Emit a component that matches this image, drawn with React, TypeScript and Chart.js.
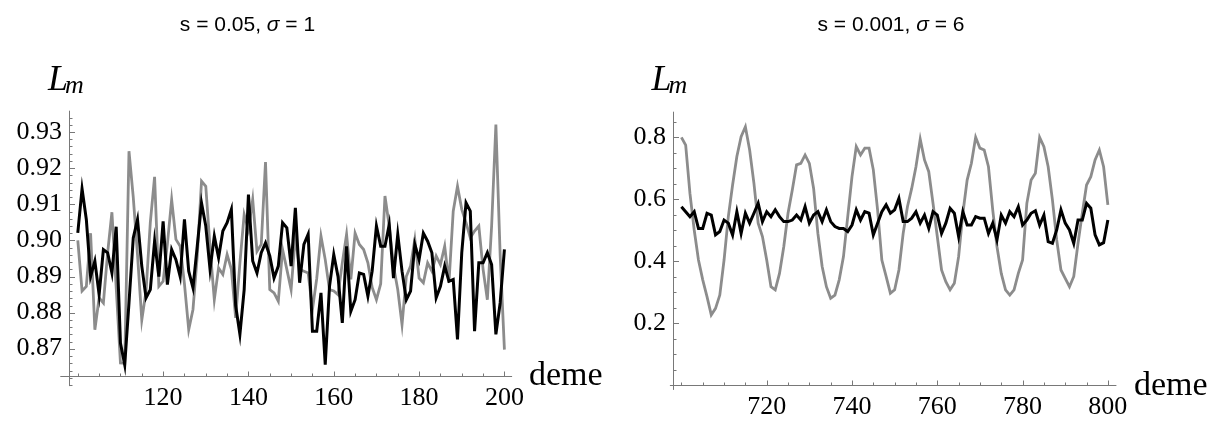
import React, { useEffect, useRef } from 'react';
import { Chart, registerables } from 'chart.js';

Chart.register(...registerables);

// ---------- data ----------
const leftDemeStart = 100;
const rightDemeStart = 700;

const leftBlack = [
  0.9021, 0.9143, 0.9058, 0.8900, 0.8943, 0.8850, 0.8975, 0.8966, 0.8910, 0.9038,
  0.8716, 0.8656, 0.8827, 0.9007, 0.9058, 0.8929, 0.8841, 0.8864, 0.8998, 0.8900,
  0.9053, 0.8878, 0.8975, 0.8947, 0.8900, 0.9058, 0.8915, 0.8869, 0.8984, 0.9104,
  0.9040, 0.8920, 0.9012, 0.8952, 0.9026, 0.9049, 0.9086, 0.8820, 0.8740, 0.8864,
  0.9127, 0.8943, 0.8910, 0.8966, 0.8993, 0.8957, 0.8896, 0.8929, 0.9049, 0.9035,
  0.8929, 0.9090, 0.8883, 0.8989, 0.9017, 0.8749, 0.8749, 0.8855, 0.8656, 0.8873,
  0.8961, 0.8900, 0.8772, 0.8984, 0.8804, 0.8836, 0.8910, 0.8906, 0.8846, 0.8915,
  0.9040, 0.8984, 0.8984, 0.9044, 0.8896, 0.9017, 0.8915, 0.8836, 0.8860, 0.8989,
  0.8947, 0.9020, 0.8998, 0.8966, 0.8841, 0.8873, 0.8929, 0.8887, 0.8892, 0.8726,
  0.8966, 0.9104, 0.9081, 0.8749, 0.8938, 0.8938, 0.8966, 0.8933, 0.8740, 0.8827,
  0.8975,
];

const leftGray = [
  0.9000, 0.8860, 0.8873, 0.9020, 0.8753, 0.8841, 0.8827, 0.8966, 0.9078, 0.8870,
  0.8661, 0.8660, 0.9247, 0.9120, 0.8960, 0.8780, 0.8860, 0.9050, 0.9176, 0.8873,
  0.8887, 0.8990, 0.9113, 0.9003, 0.8984, 0.8880, 0.8753, 0.8809, 0.8957, 0.9164,
  0.9150, 0.8980, 0.8836, 0.8924, 0.8906, 0.8961, 0.8920, 0.8786, 0.8938, 0.9072,
  0.9030, 0.9113, 0.8970, 0.8989, 0.9217, 0.8864, 0.8855, 0.8832, 0.8975, 0.8920,
  0.8864, 0.9012, 0.8920, 0.8915, 0.8910, 0.8809, 0.8894, 0.9012, 0.8947, 0.8864,
  0.8860, 0.8850, 0.8938, 0.9017, 0.8892, 0.9020, 0.8989, 0.8975, 0.8938, 0.8870,
  0.8836, 0.8880, 0.9123, 0.9040, 0.8929, 0.8864, 0.8767, 0.8900, 0.8929, 0.9003,
  0.8896, 0.8883, 0.8938, 0.8915, 0.8957, 0.8933, 0.8984, 0.8883, 0.9081, 0.9150,
  0.9086, 0.9049, 0.9007, 0.9026, 0.9040, 0.8920, 0.8836, 0.9040, 0.9321, 0.8960,
  0.8698,
];

const rightBlack = [
  0.576, 0.560, 0.544, 0.560, 0.506, 0.506, 0.555, 0.549, 0.485, 0.496,
  0.533, 0.523, 0.485, 0.560, 0.490, 0.555, 0.523, 0.555, 0.587, 0.528,
  0.560, 0.544, 0.566, 0.544, 0.528, 0.528, 0.533, 0.549, 0.533, 0.576,
  0.523, 0.549, 0.560, 0.528, 0.566, 0.528, 0.512, 0.506, 0.506, 0.496,
  0.517, 0.566, 0.533, 0.560, 0.555, 0.485, 0.523, 0.560, 0.582, 0.555,
  0.566, 0.603, 0.528, 0.528, 0.539, 0.560, 0.523, 0.549, 0.506, 0.560,
  0.549, 0.490, 0.523, 0.571, 0.555, 0.480, 0.560, 0.517, 0.517, 0.544,
  0.539, 0.539, 0.490, 0.523, 0.469, 0.549, 0.523, 0.560, 0.544, 0.576,
  0.517, 0.533, 0.555, 0.563, 0.517, 0.549, 0.463, 0.458, 0.501, 0.566,
  0.523, 0.501, 0.458, 0.533, 0.533, 0.587, 0.571, 0.485, 0.453, 0.460,
  0.533,
];

const rightGray = [
  0.800, 0.775, 0.619, 0.501, 0.404, 0.340, 0.286, 0.227, 0.248, 0.291,
  0.404, 0.544, 0.646, 0.738, 0.802, 0.834, 0.759, 0.652, 0.523, 0.480,
  0.404, 0.318, 0.308, 0.361, 0.447, 0.555, 0.630, 0.711, 0.716, 0.743,
  0.716, 0.635, 0.490, 0.383, 0.318, 0.281, 0.291, 0.340, 0.415, 0.544,
  0.673, 0.770, 0.743, 0.765, 0.765, 0.695, 0.566, 0.404, 0.351, 0.297,
  0.308, 0.372, 0.490, 0.576, 0.635, 0.705, 0.794, 0.727, 0.689, 0.587,
  0.480, 0.372, 0.334, 0.308, 0.329, 0.415, 0.555, 0.662, 0.716, 0.800,
  0.765, 0.759, 0.705, 0.566, 0.447, 0.361, 0.308, 0.291, 0.308, 0.361,
  0.404, 0.587, 0.662, 0.684, 0.800, 0.770, 0.705, 0.598, 0.469, 0.372,
  0.345, 0.318, 0.351, 0.458, 0.555, 0.646, 0.673, 0.727, 0.759, 0.705,
  0.582,
];

const leftXTicks = [120, 140, 160, 180, 200];
const leftYTicks = [0.87, 0.88, 0.89, 0.90, 0.91, 0.92, 0.93];
const leftYLabels = ['0.87', '0.88', '0.89', '0.90', '0.91', '0.92', '0.93'];
const rightXTicks = [720, 740, 760, 780, 800];
const rightYTicks = [0.2, 0.4, 0.6, 0.8];
const rightYLabels = ['0.2', '0.4', '0.6', '0.8'];

const leftTitle = 's = 0.05, ';
const leftTitleTail = ' = 1';
const rightTitle = 's = 0.001, ';
const rightTitleTail = ' = 6';

// ---------- styles ----------
const AXIS_COLOR = 'rgb(120,120,120)';
const BLACK = '#000000';
const GRAY = 'rgb(140,140,140)';
const SERIF = '"Liberation Serif", "Times New Roman", serif';
const SANS = '"Liberation Sans", Arial, sans-serif';
const TICK_FONT = `26px "Liberation Serif"`;

function range(start: number, stop: number, step: number) {
  const out: number[] = [];
  const n = Math.round((stop - start) / step);
  for (let i = 0; i <= n; i++) out.push(+(start + i * step).toFixed(6));
  return out;
}

const axesPlugin = {
  id: 'mmaAxes',
  beforeDatasetsDraw(chart: any, _args: any, opts: any) {
    const { ctx } = chart;
    const xs = chart.scales.x;
    const ys = chart.scales.y;
    const ox = Math.round(xs.getPixelForValue(opts.originX)) + 0.5;
    const oy = Math.round(ys.getPixelForValue(opts.originY)) + 0.5;
    ctx.save();
    ctx.strokeStyle = AXIS_COLOR;
    ctx.lineWidth = 1;
    ctx.beginPath();
    ctx.moveTo(xs.left, oy);
    ctx.lineTo(xs.right, oy);
    ctx.moveTo(ox, ys.top);
    ctx.lineTo(ox, ys.bottom);
    ctx.stroke();
    ctx.beginPath();
    for (const v of opts.xMinor) {
      const px = Math.round(xs.getPixelForValue(v)) + 0.5;
      ctx.moveTo(px, oy);
      ctx.lineTo(px, oy - 3);
    }
    for (const v of opts.xMajor) {
      const px = Math.round(xs.getPixelForValue(v)) + 0.5;
      ctx.moveTo(px, oy);
      ctx.lineTo(px, oy - 5);
    }
    for (const v of opts.yMinor) {
      const py = Math.round(ys.getPixelForValue(v)) + 0.5;
      ctx.moveTo(ox, py);
      ctx.lineTo(ox + 3, py);
    }
    for (const v of opts.yMajor) {
      const py = Math.round(ys.getPixelForValue(v)) + 0.5;
      ctx.moveTo(ox, py);
      ctx.lineTo(ox + 5.5, py);
    }
    ctx.stroke();
    ctx.fillStyle = '#000';
    ctx.font = `26px ${SERIF}`;
    ctx.textBaseline = 'alphabetic';
    ctx.textAlign = 'center';
    opts.xMajor.forEach((v: number) => {
      ctx.fillText(String(v), xs.getPixelForValue(v), oy + 28.5);
    });
    ctx.textAlign = 'right';
    opts.yMajor.forEach((v: number, i: number) => {
      ctx.fillText(opts.yLabels[i], ox - 7.5, ys.getPixelForValue(v) + 6.5);
    });
    ctx.restore();
  },
};

type PanelCfg = {
  left: number;
  width: number;
  start: number;
  black: number[];
  gray: number[];
  xMin: number;
  xMax: number;
  yMin: number;
  yMax: number;
  padding: { left: number; right: number; top: number; bottom: number };
  originX: number;
  originY: number;
  xMajor: number[];
  xMinor: number[];
  yMajor: number[];
  yMinor: number[];
  yLabels: string[];
};

function Panel({ cfg }: { cfg: PanelCfg }) {
  const ref = useRef<HTMLCanvasElement | null>(null);
  useEffect(() => {
    if (!ref.current) return;
    let alive = true;
    const toPts = (arr: number[]) => arr.map((y, i) => ({ x: cfg.start + i, y }));
    const chart = new Chart(ref.current, {
      type: 'line',
      data: {
        datasets: [
          {
            data: toPts(cfg.black),
            borderColor: BLACK,
            borderWidth: 3,
            pointRadius: 0,
            tension: 0,
            fill: false,
          },
          {
            data: toPts(cfg.gray),
            borderColor: GRAY,
            borderWidth: 2.8,
            pointRadius: 0,
            tension: 0,
            fill: false,
          },
        ],
      },
      options: {
        responsive: false,
        animation: false,
        devicePixelRatio: 1,
        layout: { padding: cfg.padding },
        plugins: {
          legend: { display: false },
          tooltip: { enabled: false },
          title: { display: false },
          mmaAxes: {
            originX: cfg.originX,
            originY: cfg.originY,
            xMajor: cfg.xMajor,
            xMinor: cfg.xMinor,
            yMajor: cfg.yMajor,
            yMinor: cfg.yMinor,
            yLabels: cfg.yLabels,
          },
        } as any,
        scales: {
          x: { type: 'linear', min: cfg.xMin, max: cfg.xMax, display: false },
          y: { type: 'linear', min: cfg.yMin, max: cfg.yMax, display: false },
        },
      },
      plugins: [axesPlugin as any],
    });
    const fonts: any = (document as any).fonts;
    if (fonts && fonts.load) {
      fonts
        .load(TICK_FONT, '0123456789.')
        .then(() => {
          if (alive) chart.draw();
        })
        .catch(() => {});
    }
    return () => {
      alive = false;
      chart.destroy();
    };
  }, [cfg]);
  return (
    <canvas
      ref={ref}
      width={cfg.width}
      height={421}
      style={{ position: 'absolute', left: cfg.left, top: 0, width: cfg.width, height: 421 }}
    />
  );
}

const leftCfg: PanelCfg = {
  left: 0,
  width: 600,
  start: leftDemeStart,
  black: leftBlack,
  gray: leftGray,
  xMin: 95.9,
  xMax: 201.8,
  yMin: 0.8597,
  yMax: 0.9359,
  padding: { left: 60.3, right: 87.9, top: 110.7, bottom: 34.9 },
  originX: 98,
  originY: 0.8624,
  xMajor: leftXTicks,
  xMinor: range(100, 200, 5).filter((v) => !leftXTicks.includes(v)),
  yMajor: leftYTicks,
  yMinor: range(0.86, 0.934, 0.002).filter((v) => !leftYTicks.some((t) => Math.abs(t - v) < 1e-6)),
  yLabels: leftYLabels,
};

const rightCfg: PanelCfg = {
  left: 600,
  width: 623,
  start: rightDemeStart,
  black: rightBlack,
  gray: rightGray,
  xMin: 697.3,
  xMax: 802,
  yMin: -0.015,
  yMax: 0.8826,
  padding: { left: 69.9, right: 106.6, top: 111.7, bottom: 31.1 },
  originX: 698,
  originY: 0,
  xMajor: rightXTicks,
  xMinor: range(700, 800, 5).filter((v) => !rightXTicks.includes(v)),
  yMajor: rightYTicks,
  yMinor: range(0.05, 0.85, 0.05).filter((v) => !rightYTicks.some((t) => Math.abs(t - v) < 1e-6)),
  yLabels: rightYLabels,
};

function Title({ cx, head, tail }: { cx: number; head: string; tail: string }) {
  return (
    <div
      style={{
        position: 'absolute',
        left: cx,
        top: 12.9,
        transform: 'translateX(-50%)',
        font: `21px ${SANS}`,
        lineHeight: 1,
        whiteSpace: 'nowrap',
        color: '#000',
      }}
    >
      {head}
      <i>σ</i>
      {tail}
    </div>
  );
}

function YLabel({ x }: { x: number }) {
  return (
    <div
      style={{
        position: 'absolute',
        left: x,
        top: 59.9,
        fontFamily: SERIF,
        fontStyle: 'italic',
        fontSize: 36,
        lineHeight: 1,
        whiteSpace: 'nowrap',
        color: '#000',
      }}
    >
      L
      <span style={{ fontSize: 26, position: 'relative', top: 3.3, marginLeft: -3 }}>m</span>
    </div>
  );
}

function XLabel({ x, baseline }: { x: number; baseline: number }) {
  return (
    <div
      style={{
        position: 'absolute',
        left: x,
        top: baseline - 0.8375 * 34,
        fontFamily: SERIF,
        fontSize: 34,
        lineHeight: 1,
        whiteSpace: 'nowrap',
        color: '#000',
      }}
    >
      deme
    </div>
  );
}

export default function App() {
  return (
    <div
      style={{
        position: 'absolute',
        left: 0,
        top: 0,
        width: 1223,
        height: 421,
        background: '#fff',
        overflow: 'hidden',
      }}
    >
      <Panel cfg={leftCfg} />
      <Panel cfg={rightCfg} />
      <Title cx={247.5} head={leftTitle} tail={leftTitleTail} />
      <Title cx={891} head={rightTitle} tail={rightTitleTail} />
      <YLabel x={48} />
      <YLabel x={651.5} />
      <XLabel x={529} baseline={385} />
      <XLabel x={1134} baseline={395} />
    </div>
  );
}
